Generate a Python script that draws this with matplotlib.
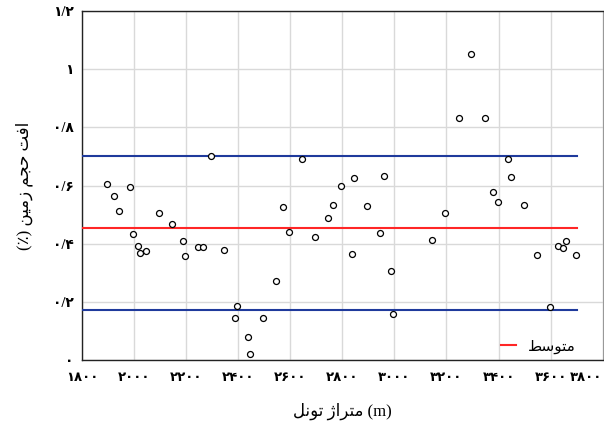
import matplotlib
matplotlib.use("Agg")
import matplotlib.pyplot as plt

# ---------- Data ----------
DISTANCE_M = [1895, 1923, 1943, 1985, 1995, 2014, 2024, 2045, 2095, 2146,
              2186, 2195, 2245, 2265, 2295, 2345, 2386, 2395, 2436, 2445,
              2495, 2545, 2571, 2596, 2645, 2696, 2745, 2766, 2795, 2837,
              2846, 2896, 2946, 2959, 2987, 2996, 3146, 3196, 3247, 3296,
              3347, 3378, 3397, 3437, 3446, 3497, 3547, 3599, 3628, 3647,
              3659, 3697]
SUBSIDENCE = [0.605, 0.563, 0.514, 0.595, 0.433, 0.392, 0.370, 0.375, 0.506, 0.469,
              0.410, 0.359, 0.388, 0.388, 0.703, 0.378, 0.146, 0.188, 0.082, 0.021,
              0.146, 0.272, 0.528, 0.440, 0.693, 0.425, 0.488, 0.532, 0.598, 0.364,
              0.627, 0.529, 0.437, 0.634, 0.307, 0.161, 0.413, 0.506, 0.831, 1.052,
              0.831, 0.577, 0.543, 0.692, 0.631, 0.535, 0.361, 0.183, 0.393, 0.385,
              0.410, 0.361]
MEAN_VALUE = 0.455
UPPER_LIMIT = 0.703
LOWER_LIMIT = 0.174
LINE_X = [1800, 3700]

X_TICKS = [1800, 2000, 2200, 2400, 2600, 2800, 3000, 3200, 3400, 3600, 3800]
X_TICK_LABELS = ["۱۸۰۰", "۲۰۰۰", "۲۲۰۰", "۲۴۰۰", "۲۶۰۰", "۲۸۰۰",
                 "۳۰۰۰", "۳۲۰۰", "۳۴۰۰", "۳۶۰۰", "۳۸۰۰"]
Y_TICKS = [0, 0.2, 0.4, 0.6, 0.8, 1.0, 1.2]
Y_TICK_LABELS = ["۰", "۰/۲", "۰/۴", "۰/۶", "۰/۸", "۱", "۱/۲"]

# Persian strings in visual (left-to-right) order with joined letter forms,
# since matplotlib does no Arabic shaping itself
X_LABEL = "\uFEDE\uFEE7\uFEEE\uFE97 \u0698\u0627\uFEAE\uFE98\uFEE3 (m)"   # متراژ تونل (m)
Y_LABEL = "(٪) \uFEE6\uFEF4\uFEE3\u0632 \uFEE2\uFEA0\uFEA3 \uFE96\uFED3\u0627"  # افت حجم زمین (٪)
MEAN_LABEL = "\uFEC2\uFEB3\uFEEE\uFE98\uFEE3"  # متوسط

FONTS = ["Liberation Serif", "DejaVu Sans"]
BLUE = "#1f3a9c"
RED = "#ff2626"


def plot_subsidence(output_path):
    fig = plt.figure(figsize=(6.04, 4.23), dpi=100)
    ax = fig.add_axes([0.1358, 0.148, 0.862, 0.826])

    ax.plot(DISTANCE_M, SUBSIDENCE, linestyle="none", marker="o",
            markersize=4.3, markerfacecolor="white", markeredgecolor="black",
            markeredgewidth=0.9, zorder=4)

    ax.plot(LINE_X, [UPPER_LIMIT] * 2, color=BLUE, linewidth=1.5, zorder=3)
    ax.plot(LINE_X, [LOWER_LIMIT] * 2, color=BLUE, linewidth=1.5, zorder=3)
    ax.plot(LINE_X, [MEAN_VALUE] * 2, color=RED, linewidth=1.5, zorder=3,
            label=MEAN_LABEL)

    ax.set_xlim(1800, 3800)
    ax.set_ylim(0, 1.2)
    ax.set_xticks(X_TICKS)
    ax.set_xticklabels(X_TICK_LABELS, family=FONTS, fontsize=9.5, fontweight="bold")
    # keep the last label inside the figure, like the original chart
    ax.get_xticklabels()[-1].set_horizontalalignment("right")
    ax.set_yticks(Y_TICKS)
    ax.set_yticklabels(Y_TICK_LABELS, family=FONTS, fontsize=10, fontweight="bold")
    ax.tick_params(axis="x", length=0, pad=8)
    ax.tick_params(axis="y", length=0, pad=6)

    ax.grid(True, color="#d9d9d9", linewidth=1.0, zorder=0)
    ax.set_axisbelow(True)
    for side in ["left", "bottom", "top"]:
        ax.spines[side].set_color("#222222")
        ax.spines[side].set_linewidth(1.0)
    ax.spines["right"].set_color("#999999")

    ax.set_xlabel(X_LABEL, family=FONTS, fontsize=12, labelpad=14)
    ax.set_ylabel(Y_LABEL, family=FONTS, fontsize=12, labelpad=14)

    ax.legend(loc="lower right", bbox_to_anchor=(0.975, -0.02), frameon=False,
              handlelength=1.0, handletextpad=0.8,
              prop={"family": FONTS, "size": 11})

    fig.savefig(output_path, dpi=100)
    print(f"Plot saved -> {output_path}")


if __name__ == "__main__":
    plot_subsidence("out.png")
